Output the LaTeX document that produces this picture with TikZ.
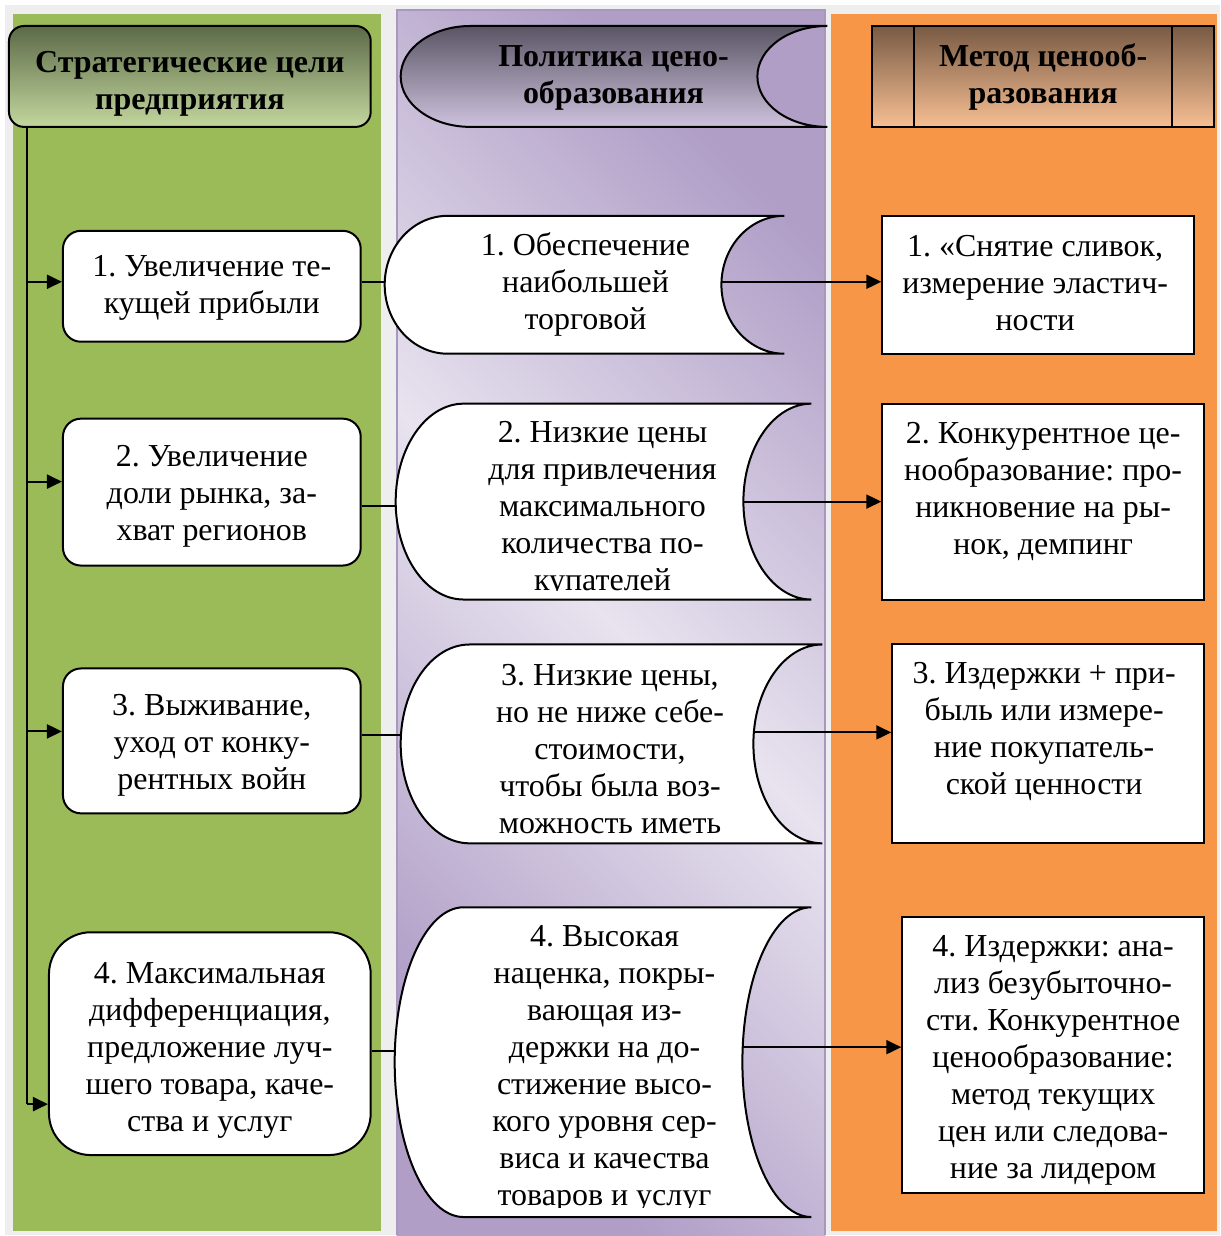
\documentclass[tikz,border=0pt]{standalone}
\usepackage{fontspec}
\setmainfont{Liberation Serif}[Ligatures=TeX]
\newfontfamily\tnr{Liberation Serif}
\usetikzlibrary{arrows.meta,fit}
\definecolor{grn}{HTML}{9BBB59}
\definecolor{org}{HTML}{F79646}
\definecolor{purD}{HTML}{B09EC7}
\definecolor{purL}{HTML}{E8E3EF}
\definecolor{purEdge}{HTML}{A898C0}
\definecolor{frameGray}{HTML}{EEEEEE}
\definecolor{ghTop}{HTML}{5C6A48}
\definecolor{ghBot}{HTML}{C4D79E}
\definecolor{phTop}{HTML}{5A5565}
\definecolor{phBot}{HTML}{CEC2DD}
\definecolor{ohTop}{HTML}{785A44}
\definecolor{ohBot}{HTML}{F7BF93}
% stored-data like shape: #1 name, #2 left, #3 top, #4 right, #5 bottom, #6 rx, #7 style
\newcommand\storedshape[7]{%
  \pgfmathsetmacro\sM{(#3+#5)/2}%
  \pgfmathsetmacro\sRy{(#5-#3)/2}%
  \pgfmathsetmacro\sA{#2+#6}%
  \pgfmathsetmacro\sAk{#2+#6-0.5523*#6}%
  \pgfmathsetmacro\sC{#4-#6}%
  \pgfmathsetmacro\sCk{#4-0.5523*#6}%
  \pgfmathsetmacro\sMu{\sM-0.5523*\sRy}%
  \pgfmathsetmacro\sMd{\sM+0.5523*\sRy}%
  \path[#7] (\sA,#3) -- (#4,#3)
    .. controls (\sCk,#3) and (\sC,\sMu) .. (\sC,\sM)
    .. controls (\sC,\sMd) and (\sCk,#5) .. (#4,#5)
    -- (\sA,#5)
    .. controls (\sAk,#5) and (#2,\sMd) .. (#2,\sM)
    .. controls (#2,\sMu) and (\sAk,#3) .. cycle;
  \coordinate (#1-nw) at (#2,#3);
  \coordinate (#1-se) at (#4,#5);
  \coordinate (#1-apex) at (\sC,\sM);
  \node[fit=(#1-nw)(#1-se), inner sep=0pt] (#1) {};
}
\begin{document}
\begin{tikzpicture}[x=1pt,y=-1pt,
  txt/.style={font=\tnr\fontsize{32}{37}\selectfont\frenchspacing, align=center, inner sep=0pt},
  htxt/.style={font=\tnr\fontsize{32}{37}\selectfont\bfseries\frenchspacing, align=center, inner sep=0pt},
  gbox/.style={draw, line width=2pt, fill=white, rounded corners=18pt, inner sep=0pt},
  obox/.style={draw, line width=2pt, fill=white, inner sep=0pt},
  pshp/.style={draw, line width=2pt, fill=white},
  conn/.style={line width=2pt},
  arr/.style={line width=2pt, -{Triangle[length=15pt,width=14pt]}}]

% background and columns
\fill[white] (0,0) rectangle (1221,1236);
\fill[frameGray] (5,5) rectangle (1221,1236);
\fill[grn] (13,14) rectangle (381,1232);
\fill[top color=purD, bottom color=purD, middle color=purL, shading angle=-45] (397,10) rectangle (826,1236);
\draw[purEdge, line width=2pt] (826,1236) -- (826,10) -- (397,10) -- (397,1236);
\fill[org] (832,14) rectangle (1218,1232);

% row coordinates
\coordinate (sp) at (27,0);
\coordinate (ra1) at (0,282);
\coordinate (ra2) at (0,482);
\coordinate (ra3) at (0,732);
\coordinate (ra4) at (0,1105);
\coordinate (rl1) at (0,282);
\coordinate (rl2) at (0,506);
\coordinate (rl3) at (0,736);
\coordinate (rl4) at (0,1052);
\coordinate (rr1) at (0,282);
\coordinate (rr2) at (0,502);
\coordinate (rr3) at (0,733);
\coordinate (rr4) at (0,1048);

% headers
\node[draw, line width=2pt, rounded corners=15pt, top color=ghTop, bottom color=ghBot,
      minimum width=362pt, minimum height=101pt, inner sep=0pt] (gh) at (190,76.5) {};
\storedshape{ph}{401}{26}{828}{127}{70}{draw, line width=2pt, top color=phTop, bottom color=phBot}
\node[draw, line width=2pt, top color=ohTop, bottom color=ohBot,
      minimum width=342pt, minimum height=101pt, inner sep=0pt] (oh) at (1044,76.5) {};
\draw[line width=2pt] ([xshift=43pt]oh.north west) -- ([xshift=43pt]oh.south west);
\draw[line width=2pt] ([xshift=-43pt]oh.north east) -- ([xshift=-43pt]oh.south east);

% green boxes
\node[gbox, minimum width=298pt, minimum height=111pt] (g1) at (212,286.5) {};
\node[gbox, minimum width=298pt, minimum height=147pt] (g2) at (212,492.5) {};
\node[gbox, minimum width=298pt, minimum height=145pt] (g3) at (212,741.5) {};
\node[gbox, rounded corners=42pt, minimum width=322pt, minimum height=223pt] (g4) at (210,1044.5) {};

% orange boxes
\node[obox, minimum width=312pt, minimum height=138pt] (o1) at (1039,285) {};
\node[obox, minimum width=322pt, minimum height=196pt] (o2) at (1044,502) {};
\node[obox, minimum width=312pt, minimum height=199pt] (o3) at (1049,744.5) {};
\node[obox, minimum width=302pt, minimum height=276pt] (o4) at (1054,1056) {};

% spine and arrows into green boxes
\draw[conn] (gh.south -| sp) -- (sp |- ra4);
\draw[arr] (sp |- ra1) -- (g1.west |- ra1);
\draw[arr] (sp |- ra2) -- (g2.west |- ra2);
\draw[arr] (sp |- ra3) -- (g3.west |- ra3);
\draw[arr] (sp |- ra4) -- (g4.west |- ra4);

% purple shape extents (for connectors drawn before the shapes)
\path (385,216) coordinate (q1a) (785,354) coordinate (q1b);
\node[fit=(q1a)(q1b), inner sep=0pt] (p1pre) {};
\path (396,404) coordinate (q2a) (812,600) coordinate (q2b);
\node[fit=(q2a)(q2b), inner sep=0pt] (p2pre) {};
\path (401,645) coordinate (q3a) (823,844) coordinate (q3b);
\node[fit=(q3a)(q3b), inner sep=0pt] (p3pre) {};
\path (395,908) coordinate (q4a) (812,1218) coordinate (q4b);
\node[fit=(q4a)(q4b), inner sep=0pt] (p4pre) {};

\draw[conn] (g1.east |- rl1) -- ([xshift=30pt]p1pre.west |- rl1);
\draw[conn] (g2.east |- rl2) -- ([xshift=30pt]p2pre.west |- rl2);
\draw[conn] (g3.east |- rl3) -- ([xshift=30pt]p3pre.west |- rl3);
\draw[conn] (g4.east |- rl4) -- ([xshift=30pt]p4pre.west |- rl4);

\draw[arr] ([xshift=-100pt]p1pre.east |- rr1) -- (o1.west |- rr1);
\draw[arr] ([xshift=-100pt]p2pre.east |- rr2) -- (o2.west |- rr2);
\draw[arr] ([xshift=-100pt]p3pre.east |- rr3) -- (o3.west |- rr3);
\draw[arr] ([xshift=-100pt]p4pre.east |- rr4) -- (o4.west |- rr4);

\storedshape{p1}{385}{216}{785}{354}{63}{pshp}
\storedshape{p2}{396}{404}{812}{600}{68}{pshp}
\storedshape{p3}{401}{645}{823}{844}{69}{pshp}
\storedshape{p4}{395}{908}{812}{1218}{69}{pshp}

% visible part of right connectors (from concave arc outward)
\draw[conn] (p1-apex |- rr1) -- ([xshift=-12pt]o1.west |- rr1);
\draw[conn] (p2-apex |- rr2) -- ([xshift=-12pt]o2.west |- rr2);
\draw[conn] (p3-apex |- rr3) -- ([xshift=-12pt]o3.west |- rr3);
\draw[conn] (p4-apex |- rr4) -- ([xshift=-12pt]o4.west |- rr4);

% header texts
\node[htxt] (ght) at (190,83.5) {Стратегические цели\\предприятия};
\node[htxt] (pht) at (614,78) {Политика цено-\\образования};
\node[htxt] (oht) at (1044,77) {Метод ценооб-\\разования};

% green texts
\node[txt] (g1t) at (212,288) {1. Увеличение те-\\кущей прибыли};
\node[txt] (g2t) at (212,496.5) {2. Увеличение\\доли рынка, за-\\хват регионов};
\node[txt] (g3t) at (212,745.5) {3. Выживание,\\уход от конку-\\рентных войн};
\node[txt] (g4t) at (210,1051) {4. Максимальная\\дифференциация,\\предложение луч-\\шего товара, каче-\\ства и услуг};

% purple texts
\node[txt] (p1t) at (586,284.5) {1. Обеспечение\\наибольшей\\торговой};
\begin{scope}
\clip (380,400) rectangle (830,591);
\node[txt] (p2t) at (603,510) {2. Низкие цены\\для привлечения\\максимального\\количества по-\\купателей};
\end{scope}
\node[txt] (p3t) at (610.5,749.5) {3. Низкие цены,\\но не ниже себе-\\стоимости,\\чтобы была воз-\\можность иметь};
\begin{scope}
\clip (380,900) rectangle (830,1208);
\node[txt] (p4t) at (605,1069.5) {4. Высокая\\наценка, покры-\\вающая из-\\держки на до-\\стижение высо-\\кого уровня сер-\\виса и качества\\товаров и услуг};
\end{scope}

% orange texts
\node[txt] (o1t) at (1036,283.5) {1. «Снятие сливок,\\измерение эластич-\\ности};
\node[txt] (o2t) at (1044,492) {2. Конкурентное це-\\нообразование: про-\\никновение на ры-\\нок, демпинг};
\node[txt] (o3t) at (1045,732) {3. Издержки + при-\\быль или измере-\\ние покупатель-\\ской ценности};
\node[txt] (o4t) at (1054,1061) {4. Издержки: ана-\\лиз безубыточно-\\сти. Конкурентное\\ценообразование:\\метод текущих\\цен или следова-\\ние за лидером};

\end{tikzpicture}
\end{document}
